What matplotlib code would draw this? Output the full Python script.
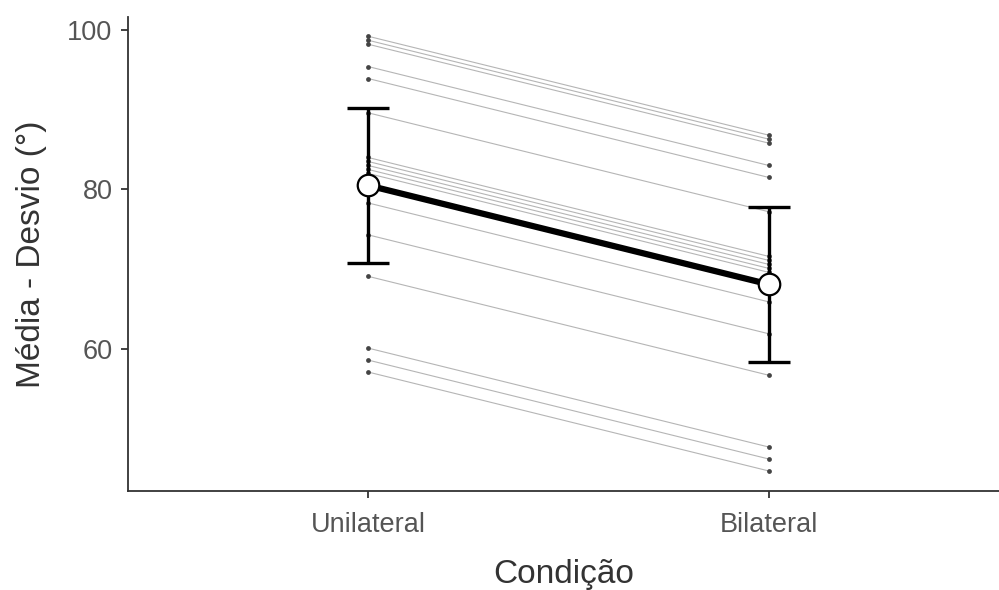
import matplotlib
matplotlib.use("Agg")
import matplotlib.pyplot as plt

# ── Data ──
conditions = ["Unilateral", "Bilateral"]
unilateral = [99.2, 98.7, 98.2, 95.4, 93.9, 89.6, 84.0, 83.5, 83.0, 82.5,
              82.0, 78.3, 74.3, 69.1, 60.1, 58.6, 57.1]
bilateral = [86.8, 86.3, 85.8, 83.0, 81.5, 77.2, 71.6, 71.1, 70.6, 70.1,
             69.6, 65.9, 61.9, 56.7, 47.7, 46.2, 44.7]
means = [80.5, 68.1]
errors = [9.75, 9.75]
yticks = [60, 80, 100]

TICK_COLOR = "#555555"
LABEL_COLOR = "#333333"
SPINE_COLOR = "#333333"

plt.rcParams["font.family"] = ["Liberation Sans", "DejaVu Sans"]

fig = plt.figure(figsize=(9.99, 5.9), dpi=100)
ax = fig.add_axes([0.128, 0.168, 0.872, 0.803])
xs = [0, 1]

# Individual subjects
for u, b in zip(unilateral, bilateral):
    ax.plot(xs, [u, b], color="#b5b5b5", linewidth=0.8, zorder=2)
    ax.scatter(xs, [u, b], s=12, color="#444444", zorder=3, linewidths=0)

# Mean line + error bars
ax.plot(xs, means, color="black", linewidth=4.5, zorder=4, solid_capstyle="butt")
ax.errorbar(xs, means, yerr=errors, fmt="none", ecolor="black",
            elinewidth=2.4, capsize=15, capthick=2.4, zorder=5)
ax.scatter(xs, means, s=240, facecolor="white", edgecolor="black",
           linewidths=1.6, zorder=6)

ax.set_xlim(-0.6, 1.575)
ax.set_ylim(42.2, 101.6)
ax.set_xticks(xs)
ax.set_xticklabels(conditions)
ax.set_yticks(yticks)

for side in ["top", "right"]:
    ax.spines[side].set_visible(False)
for side in ["left", "bottom"]:
    ax.spines[side].set_color(SPINE_COLOR)
    ax.spines[side].set_linewidth(1.3)

ax.tick_params(axis="both", colors=SPINE_COLOR, labelcolor=TICK_COLOR,
               labelsize=19.5, length=5, width=1.3, direction="out")
ax.tick_params(axis="x", pad=10)
ax.tick_params(axis="y", pad=6)

ax.set_xlabel("Condição", fontsize=24, color=LABEL_COLOR, labelpad=15)
ax.set_ylabel("Média - Desvio (°)", fontsize=24, color=LABEL_COLOR, labelpad=15)

fig.savefig("out.png", dpi=100, facecolor="white")
